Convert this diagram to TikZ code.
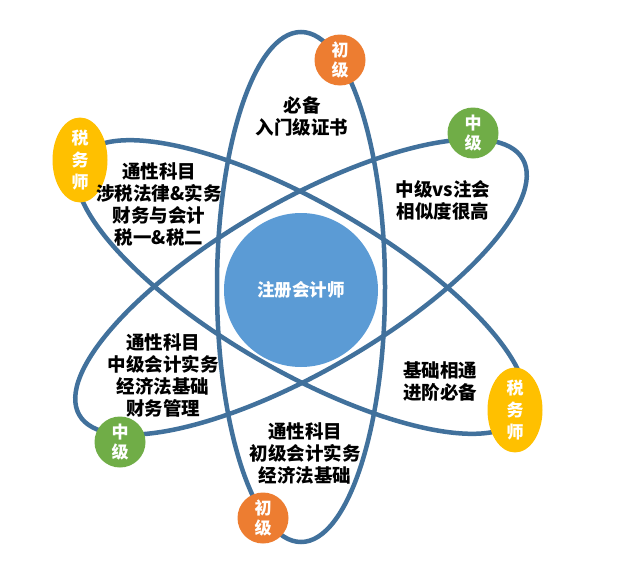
\documentclass[tikz,border=0pt]{standalone}
\usepackage{fontspec}
\usetikzlibrary{shapes.geometric}
\newfontfamily\cjk{Noto Sans CJK SC}
\definecolor{orbitc}{RGB}{65,113,156}
\definecolor{corec}{RGB}{91,155,213}
\definecolor{orangec}{RGB}{237,125,49}
\definecolor{greenc}{RGB}{112,173,71}
\definecolor{goldc}{RGB}{255,192,0}
\tikzset{
  orbit/.style={draw=orbitc, line width=4.5pt},
  lbl/.style={inner sep=0pt, align=center, text=black, font=\cjk\bfseries\fontsize{18.5}{22}\selectfont},
  badge/.style={circle, minimum size=51pt, inner sep=0pt, align=center, text=white, font=\cjk\bfseries\fontsize{17}{20}\selectfont},
  tbadge/.style={ellipse, minimum width=55pt, minimum height=75pt, inner sep=0pt, align=center, text=white, fill=goldc, font=\cjk\bfseries\fontsize{17}{22}\selectfont},
}
\begin{document}
\begin{tikzpicture}[x=1pt,y=-1pt]
\useasboundingbox (0,0) rectangle (640,570);
\fill[white] (0,0) rectangle (640,570);
\coordinate (c) at (301,287);
\draw[orbit, rotate around={90:(c)}] (c) ellipse [x radius=255pt, y radius=84pt];
\draw[orbit, rotate around={30:(c)}] (c) ellipse [x radius=256pt, y radius=85pt];
\draw[orbit, rotate around={-30:(c)}] (c) ellipse [x radius=255pt, y radius=84pt];
\node[circle, fill=corec, minimum size=154pt, inner sep=0pt, text=white, font=\cjk\bfseries\fontsize{17.5}{20}\selectfont] (core) at (301,290) {注册会计师};
\node[badge, fill=orangec] (b1) at (340,60) {初\\级};
\node[badge, fill=orangec] (b2) at (263,518) {初\\级};
\node[badge, fill=greenc] (b3) at (473,133) {中\\级};
\node[badge, fill=greenc] (b4) at (120,442) {中\\级};
\node[tbadge] (b5) at (80,160) {税\\务\\师};
\node[tbadge] (b6) at (515,410) {税\\务\\师};
\node[lbl] (t1) at (302,116) {必备\\入门级证书};
\node[lbl] (t2) at (159,204) {通性科目\\涉税法律\&实务\\财务与会计\\税一\&税二};
\node[lbl] (t3) at (443,200) {中级vs注会\\相似度很高};
\node[lbl] (t4) at (163,375) {通性科目\\中级会计实务\\经济法基础\\财务管理};
\node[lbl] (t5) at (440,382) {基础相通\\进阶必备};
\node[lbl] (t6) at (305,453) {通性科目\\初级会计实务\\经济法基础};
\end{tikzpicture}
\end{document}
